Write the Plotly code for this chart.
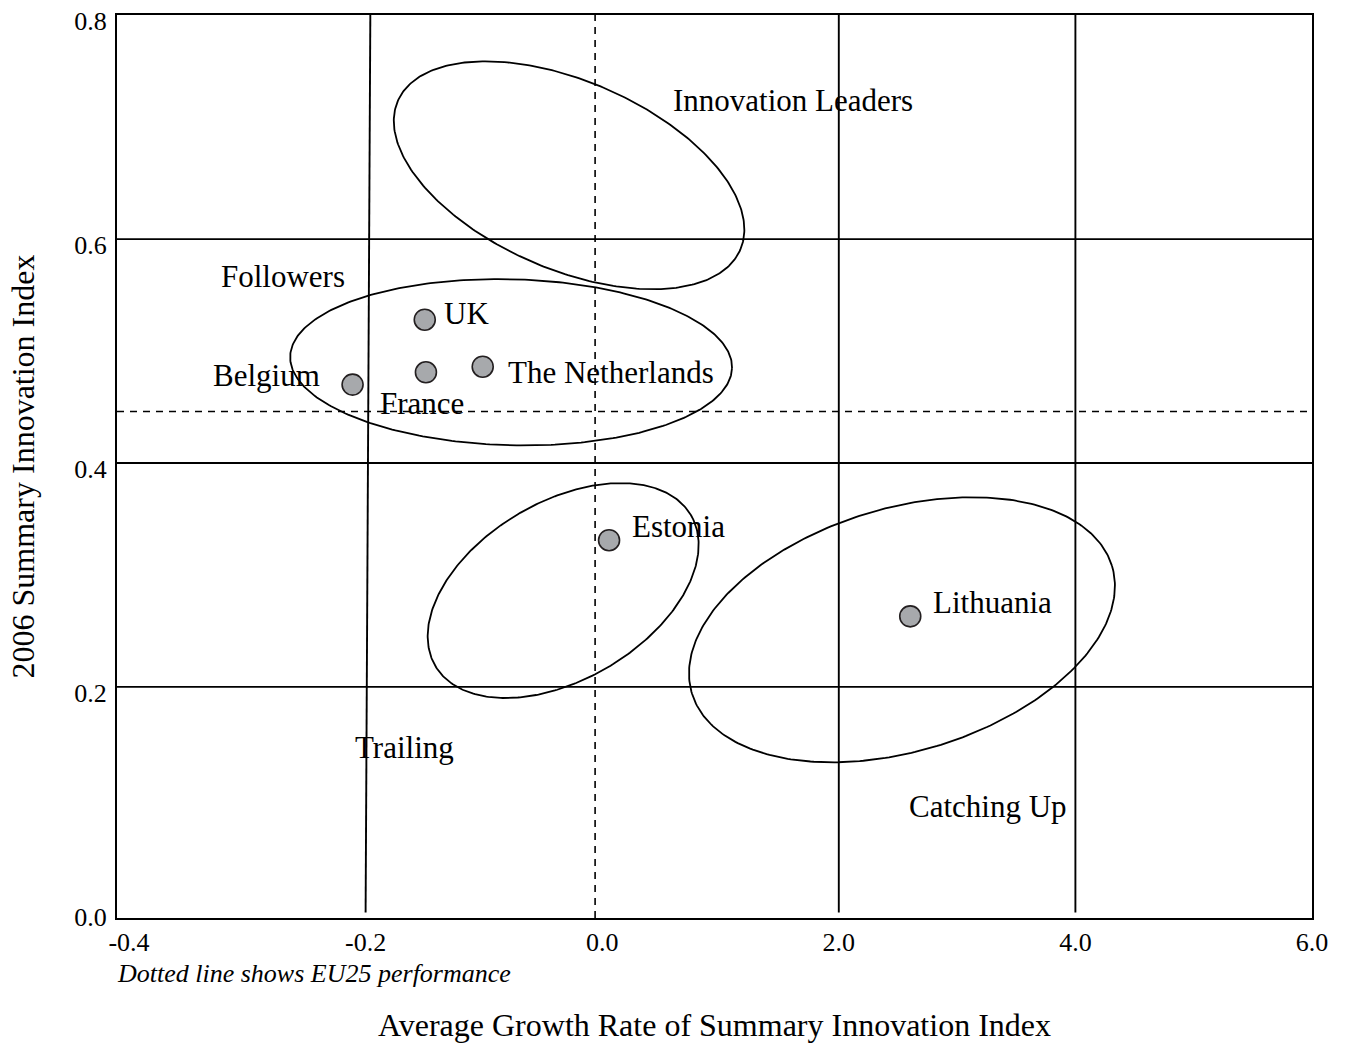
import numpy as np
import plotly.graph_objects as go

# ---------------- data ----------------
# x axis: evenly spaced, non-linear tick values
x_tick_values = [-0.4, -0.2, 0.0, 2.0, 4.0, 6.0]
x_tick_labels = ["-0.4", "-0.2", "0.0", "2.0", "4.0", "6.0"]
y_tick_values = [0.0, 0.2, 0.4, 0.6, 0.8]
y_tick_labels = ["0.0", "0.2", "0.4", "0.6", "0.8"]

countries = ["UK", "France", "The Netherlands", "Belgium", "Estonia", "Lithuania"]
growth_rate = [-0.150, -0.149, -0.101, -0.211, 0.058, 2.604]
summary_index = [0.528, 0.481, 0.486, 0.470, 0.331, 0.263]

# EU25 performance (dotted lines)
eu25_growth = -0.006
eu25_index = 0.446

# solid group boundaries
boundary_index = [0.2, 0.4, 0.6]
boundary_growth_top = [-0.196, 2.0, 4.0]
boundary_growth_bottom = [-0.200, 2.0, 4.0]

# group regions
groups = ["Innovation Leaders", "Followers", "Trailing", "Catching Up"]
group_label_growth = [1.61, -0.27, -0.167, 3.26]
group_label_index = [0.724, 0.567, 0.146, 0.093]

# ellipses: centre (growth, index), semi-axes (px), rotation (deg)
ellipse_growth = [-0.028, -0.077, -0.033, 2.534]
ellipse_index = [0.657, 0.490, 0.286, 0.251]
ellipse_major = [186.7, 221.0, 148.4, 219.5]
ellipse_minor = [94.1, 83.0, 88.8, 121.4]
ellipse_angle = [-23.5, -1.5, 30.6, 16.9]

# ---------------- layout geometry ----------------
W, H = 1345, 1043
margin = dict(l=117, r=33, t=15, b=125)
x_tick_pos = list(range(len(x_tick_values)))
x_range = [-0.0507, 5.0]
y_range = [-0.0065, 0.8002]
px_per_x = (W - margin["l"] - margin["r"]) / (x_range[1] - x_range[0])
px_per_y = (H - margin["t"] - margin["b"]) / (y_range[1] - y_range[0])


def to_pos(v):
    return np.interp(v, x_tick_values, x_tick_pos)


FONT = "Liberation Serif, Times New Roman, serif"
fig = go.Figure()

# ellipses
t = np.linspace(0, 2 * np.pi, 361)
for gx, gy, a, b, ang in zip(ellipse_growth, ellipse_index, ellipse_major,
                             ellipse_minor, ellipse_angle):
    phi = np.radians(ang)
    dx = a * np.cos(phi) * np.cos(t) - b * np.sin(phi) * np.sin(t)
    dy = a * np.sin(phi) * np.cos(t) + b * np.cos(phi) * np.sin(t)
    fig.add_trace(go.Scatter(
        x=to_pos(gx) + dx / px_per_x, y=gy + dy / px_per_y,
        mode="lines", line=dict(color="black", width=1.8),
        hoverinfo="skip", showlegend=False))

# country markers
fig.add_trace(go.Scatter(
    x=to_pos(growth_rate), y=summary_index, mode="markers",
    marker=dict(size=21, color="#A7A9AC", line=dict(color="#231F20", width=1.6)),
    text=countries, hoverinfo="text", showlegend=False))

shapes = []
for yv in boundary_index:
    shapes.append(dict(type="line", xref="x domain", yref="y", x0=0, x1=1,
                       y0=yv, y1=yv, line=dict(color="black", width=1.9),
                       layer="below"))
for gt, gb in zip(boundary_growth_top, boundary_growth_bottom):
    shapes.append(dict(type="line", xref="x", yref="y domain",
                       x0=float(to_pos(gb)), x1=float(to_pos(gt)), y0=0.006, y1=1,
                       line=dict(color="black", width=1.9), layer="below"))
shapes.append(dict(type="line", xref="x", yref="y domain",
                   x0=float(to_pos(eu25_growth)), x1=float(to_pos(eu25_growth)),
                   y0=0, y1=1, line=dict(color="black", width=1.6, dash="7px,6px"),
                   layer="below"))
shapes.append(dict(type="line", xref="x domain", yref="y", x0=0, x1=1,
                   y0=eu25_index, y1=eu25_index,
                   line=dict(color="black", width=1.6, dash="7px,6px"), layer="below"))

annotations = []
# group labels
for name, gx, gy in zip(groups, group_label_growth, group_label_index):
    annotations.append(dict(x=float(to_pos(gx)), y=gy, text=name, showarrow=False,
                            xanchor="center", yanchor="middle",
                            font=dict(family=FONT, size=31, color="black")))
# country labels: offsets in px relative to marker
label_offsets = {
    "UK": ("left", 17, 6),
    "France": ("center", -4, -31),
    "The Netherlands": ("left", 23, -6),
    "Belgium": ("right", -31, 9),
    "Estonia": ("left", 21, 14),
    "Lithuania": ("left", 21, 14),
}
for name, gx, gy in zip(countries, growth_rate, summary_index):
    anc, xs, ys = label_offsets[name]
    annotations.append(dict(x=float(to_pos(gx)), y=gy, text=name, showarrow=False,
                            xanchor=anc, yanchor="middle", xshift=xs, yshift=ys,
                            font=dict(family=FONT, size=31, color="black")))
# footnote
annotations.append(dict(xref="paper", yref="paper", x=-0.001, y=-0.0445,
                        xanchor="left", yanchor="top",
                        text="<i>Dotted line shows EU25 performance</i>",
                        showarrow=False, borderpad=0,
                        font=dict(family=FONT, size=26, color="black")))

fig.update_layout(
    width=W, height=H, margin=margin,
    paper_bgcolor="white", plot_bgcolor="white",
    font=dict(family=FONT, color="black"),
    shapes=shapes, annotations=annotations, showlegend=False,
    xaxis=dict(range=x_range, tickmode="array", tickvals=x_tick_pos,
               ticktext=x_tick_labels, showgrid=False, zeroline=False,
               showline=True, mirror=True, linecolor="black", linewidth=2,
               ticks="", automargin=False,
               tickfont=dict(family=FONT, size=26, color="black"),
               title=dict(text="Average Growth Rate of Summary Innovation Index",
                          font=dict(family=FONT, size=32, color="black"),
                          standoff=63)),
    yaxis=dict(range=y_range, tickmode="array", tickvals=y_tick_values,
               ticktext=y_tick_labels, showgrid=False, zeroline=False,
               showline=True, mirror=True, linecolor="black", linewidth=2,
               ticks="", ticklabelshift=6, ticklabelstandoff=3, automargin=False,
               tickfont=dict(family=FONT, size=26, color="black"),
               title=dict(text="2006 Summary Innovation Index",
                          font=dict(family=FONT, size=32, color="black"),
                          standoff=30)),
)

fig.write_html("out.html", config={"displayModeBar": False},
               post_script="document.body.style.margin='0';")
